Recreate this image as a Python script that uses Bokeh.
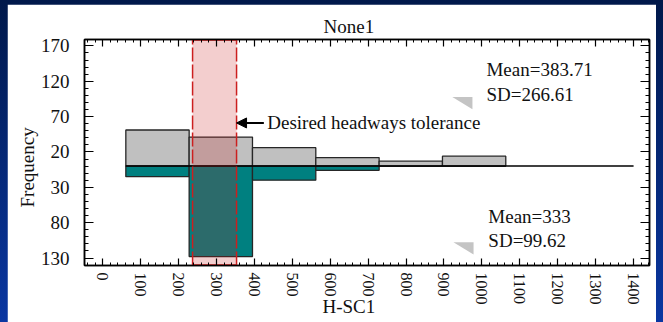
from bokeh.plotting import figure
from bokeh.models import (LinearAxis, FixedTicker, Range1d, Label, Arrow,
                          NormalHead, ColumnDataSource, Title)
from bokeh.embed import file_html
from bokeh.resources import INLINE

# ---------------- data ----------------
bin_edges = [61, 228, 395, 562, 729, 896, 1063]
upper_freq = [51, 41, 26, 12, 7, 14]      # grey histogram (drawn upward)
lower_freq = [15, 128, 20, 6, 0, 0]       # teal histogram (drawn downward)
line_end = 1400
tolerance = [237, 353]                    # desired headways tolerance band
x_ticks = list(range(0, 1401, 100))
y_ticks = [170, 120, 70, 20, -30, -80, -130]
y_tick_labels = ["170", "120", "70", "20", "30", "80", "130"]
upper_stats = ["Mean=383.71", "SD=266.61"]
lower_stats = ["Mean=333", "SD=99.62"]
title_text = "None1"
x_label = "H-SC1"
y_label = "Frequency"
note_text = "Desired headways tolerance"

# ---------------- layout ----------------
FONT = "Liberation Serif"
TXT = "19px"
X0, X1 = -48, 1442
Y0, Y1 = -140.6, 179

p = figure(width=649, height=318, x_range=Range1d(X0, X1), y_range=Range1d(Y0, Y1),
           output_backend="svg", toolbar_location=None,
           x_axis_location=None, y_axis_location=None,
           min_border_left=77, min_border_right=7, min_border_top=35, min_border_bottom=57,
           background_fill_color="white", border_fill_color="white")
p.outline_line_color = "black"
p.outline_line_width = 1.5
p.grid.visible = False

p.title.text = title_text
p.title.align = "left"
p.title.offset = 239
p.title.standoff = 6
p.title.text_font = FONT
p.title.text_font_size = TXT
p.title.text_font_style = "normal"
p.title.text_color = "#111111"

x_ticker = FixedTicker(ticks=x_ticks, minor_ticks=list(range(-40, 1441, 20)))
y_ticker = FixedTicker(ticks=y_ticks, minor_ticks=list(range(-140, 180, 10)))


def style_axis(ax, major_in, minor_in):
    ax.axis_line_color = "black"
    ax.axis_line_width = 1.5
    ax.major_tick_line_color = "black"
    ax.minor_tick_line_color = "black"
    ax.major_tick_line_width = 1.2
    ax.minor_tick_line_width = 1.0
    ax.major_tick_in = major_in
    ax.major_tick_out = 0
    ax.minor_tick_in = minor_in
    ax.minor_tick_out = 0
    ax.major_label_text_font = FONT
    ax.major_label_text_color = "#111111"


bottom = LinearAxis(ticker=x_ticker)
style_axis(bottom, 7, 3)
bottom.major_label_orientation = "vertical"
bottom.major_label_text_font_size = "16px"
bottom.major_label_standoff = 7
p.add_layout(bottom, "below")

top = LinearAxis(ticker=x_ticker)
style_axis(top, 7, 3)
top.major_label_overrides = {t: "" for t in x_ticks}
top.major_label_text_font_size = "0px"
top.major_label_standoff = 0
p.add_layout(top, "above")

left = LinearAxis(ticker=y_ticker)
style_axis(left, 9, 4)
left.major_label_overrides = dict(zip(y_ticks, y_tick_labels))
left.major_label_text_font_size = TXT
left.major_label_standoff = 15
p.add_layout(left, "left")

right = LinearAxis(ticker=y_ticker)
style_axis(right, 9, 4)
right.major_label_overrides = {t: "" for t in y_ticks}
right.major_label_text_font_size = "0px"
right.major_label_standoff = 0
p.add_layout(right, "right")

# axis titles (placed as side titles so they can be offset like the reference)
p.add_layout(Title(text=x_label, align="left", offset=238, vertical_align="top",
                   standoff=-24, text_font=FONT, text_font_size=TXT,
                   text_font_style="normal", text_color="#111111"), "below")
p.add_layout(Title(text=y_label, align="left", offset=58, vertical_align="bottom",
                   standoff=0, text_font=FONT, text_font_size=TXT,
                   text_font_style="normal", text_color="#111111"), "left")

# ---------------- histograms ----------------
up = ColumnDataSource(dict(left=bin_edges[:-1], right=bin_edges[1:],
                           top=upper_freq, bottom=[0] * len(upper_freq)))
lo = ColumnDataSource(dict(left=bin_edges[:-1], right=bin_edges[1:],
                           top=[0] * len(lower_freq), bottom=[-v for v in lower_freq]))
p.quad(left="left", right="right", top="top", bottom="bottom", source=up,
       fill_color="#c0c0c0", line_color="#262626", line_width=1.3)
p.quad(left="left", right="right", top="top", bottom="bottom", source=lo,
       fill_color="#008080", line_color="#262626", line_width=1.3)
p.line(x=[bin_edges[0], line_end], y=[0, 0], line_color="black", line_width=1.5)

# ---------------- tolerance band ----------------
p.quad(left=[tolerance[0]], right=[tolerance[1]], top=[Y1], bottom=[Y0],
       fill_color="#c81e1e", fill_alpha=0.22, line_color=None)
p.segment(x0=tolerance, y0=[Y0, Y0], x1=tolerance, y1=[Y1, Y1],
          line_color="#cc1f1f", line_width=1.5, line_dash="14 3")
p.segment(x0=[tolerance[0]] * 2, y0=[Y0, Y1], x1=[tolerance[1]] * 2, y1=[Y0, Y1],
          line_color="#cc1f1f", line_width=2.5)

# ---------------- annotations ----------------
note_y = 61
p.add_layout(Arrow(end=NormalHead(size=10, fill_color="black", line_color="black"),
                   x_start=425, y_start=note_y, x_end=tolerance[1], y_end=note_y,
                   line_color="black", line_width=2))
p.add_layout(Label(x=434, y=note_y, text=note_text, text_font=FONT, text_font_size=TXT,
                   text_align="left", text_baseline="middle", text_color="#111111"))

stat_x = 1012
for txt, yy in zip(upper_stats, [136.5, 101]):
    p.add_layout(Label(x=stat_x, y=yy, text=txt, text_font=FONT, text_font_size=TXT,
                       text_align="left", text_baseline="middle", text_color="#111111"))
for txt, yy in zip(lower_stats, [-70.8, -105]):
    p.add_layout(Label(x=stat_x + 5, y=yy, text=txt, text_font=FONT, text_font_size=TXT,
                       text_align="left", text_baseline="middle", text_color="#111111"))

# small grey wedge markers next to the statistics
tri_w, tri_h = 53, 17.5
tri_anchor = [(922, 97.7), (925, -107.6)]
p.patches(xs=[[ax_, ax_ + tri_w, ax_ + tri_w] for ax_, ay_ in tri_anchor],
          ys=[[ay_, ay_, ay_ - tri_h] for ax_, ay_ in tri_anchor],
          fill_color="#c4c4c4", line_color=None)

style = ("<style>html{height:100%;background:#0b2f8f linear-gradient(180deg,#00184a 0%,"
         "#0a37a2 100%) fixed !important;}"
         "body{margin:0 !important;padding:4px 0 0 7px !important;overflow:hidden;"
         "background:transparent !important;}</style>")
open("out.html", "w").write(file_html(p, INLINE).replace("</head>", style + "</head>", 1))
